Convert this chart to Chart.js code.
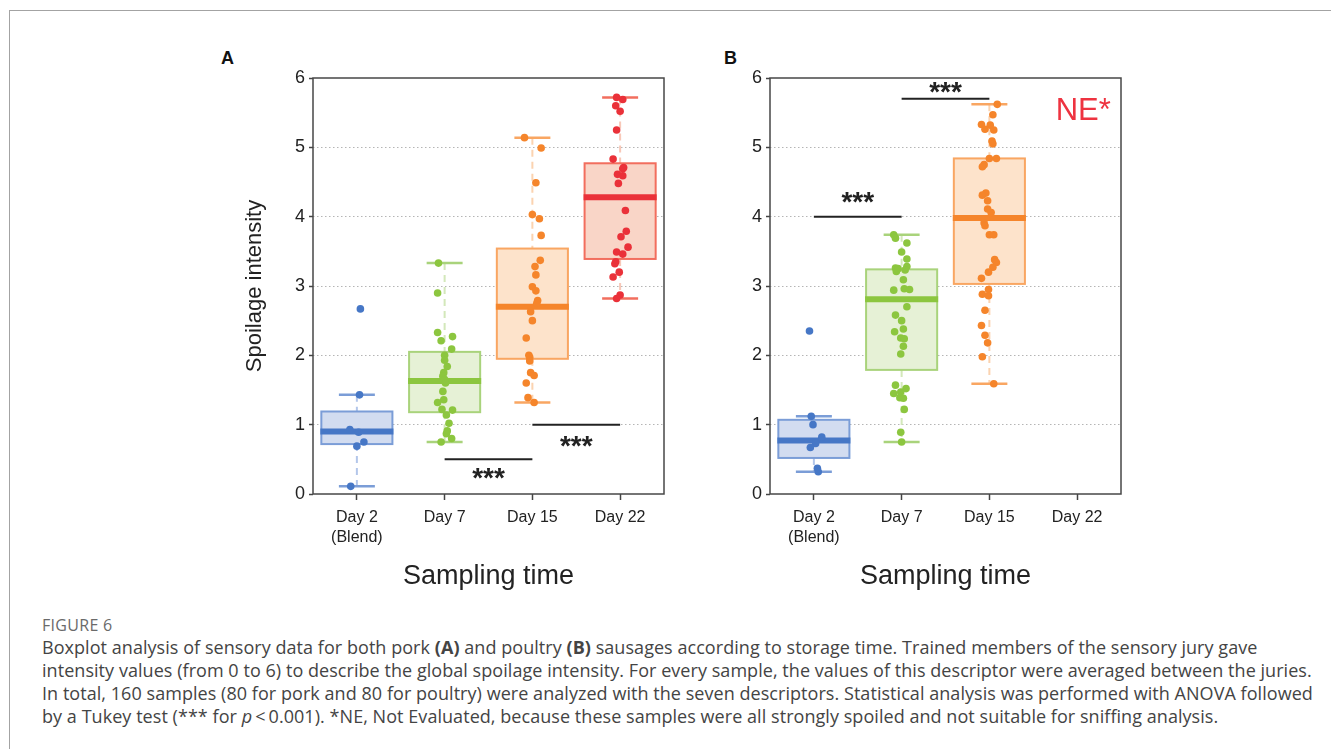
<!DOCTYPE html>
<html>
<head>
<meta charset="utf-8">
<script src="https://cdn.jsdelivr.net/npm/chart.js"></script>
<style>
  body { margin: 0; background: #fff; width: 1331px; height: 749px; overflow: hidden; position: relative; }
  .frame { position: absolute; left: 9px; top: 10px; width: 1330px; height: 760px; border-top: 1px solid #a3a3a3; border-left: 1px solid #a3a3a3; }
  canvas { position: absolute; top: 40px; }
  #chartA { left: 200px; }
  #chartB { left: 657px; }
  .panel { position: absolute; font: bold 18px 'Liberation Sans', Arial, sans-serif; color: #111; }
  .caption { position: absolute; left: 42px; top: 615px; font-family: 'Open Sans', sans-serif; color: #444; white-space: nowrap; }
  .caption .fig { font-size: 16px; letter-spacing: 0.3px; line-height: 21px; color: #6a6a6a; }
  .caption p { margin: 0; font-size: 18px; letter-spacing: 0.05px; line-height: 23px; }
</style>
</head>
<body>
<div class="frame"></div>
<div class="panel" style="left:221px;top:48px">A</div>
<div class="panel" style="left:724px;top:48px">B</div>
<canvas id="chartA" width="480" height="570"></canvas>
<canvas id="chartB" width="480" height="570"></canvas>
<div class="caption">
  <div class="fig">FIGURE 6</div>
  <p>Boxplot analysis of sensory data for both pork <b>(A)</b> and poultry <b>(B)</b> sausages according to storage time. Trained members of the sensory jury gave<br>
  intensity values (from 0 to 6) to describe the global spoilage intensity. For every sample, the values of this descriptor were averaged between the juries.<br>
  In total, 160 samples (80 for pork and 80 for poultry) were analyzed with the seven descriptors. Statistical analysis was performed with ANOVA followed<br>
  by a Tukey test (*** for <i>p</i>&thinsp;&lt;&thinsp;0.001). *NE, Not Evaluated, because these samples were all strongly spoiled and not suitable for sniffing analysis.</p>
</div>
<script>
const categories = [['Day 2', '(Blend)'], 'Day 7', 'Day 15', 'Day 22'];
const yTicks = [0, 1, 2, 3, 4, 5, 6];

// pork (A) box summaries per day
const porkQ1 = [0.72, 1.18, 1.95, 3.39];
const porkMedian = [0.90, 1.63, 2.70, 4.28];
const porkQ3 = [1.19, 2.05, 3.54, 4.77];
const porkLow = [0.11, 0.75, 1.32, 2.82];
const porkHigh = [1.43, 3.33, 5.14, 5.72];

// pork samples: [value, horizontal jitter]
const porkDay2 = [[2.67, 0.04], [1.43, 0.03], [0.93, -0.08], [0.89, 0.02], [0.75, 0.08], [0.69, 0], [0.11, -0.07]];
const porkDay7 = [[3.33, -0.07], [2.90, -0.08], [2.33, -0.08], [2.27, 0.09], [2.21, -0.04], [2.09, 0.08], [2.00, 0], [1.93, 0],
  [1.84, 0.03], [1.75, -0.01], [1.70, -0.02], [1.65, 0], [1.60, 0.01], [1.48, -0.02], [1.36, -0.01], [1.32, -0.08],
  [1.22, -0.03], [1.21, 0.09], [1.14, 0.02], [1.02, 0.05], [0.91, 0.03], [0.87, 0.02], [0.80, 0.08], [0.75, -0.04]];
const porkDay15 = [[5.14, -0.09], [4.99, 0.10], [4.49, 0.04], [4.03, 0], [3.97, 0.08], [3.73, 0.10], [3.37, 0.09], [3.28, 0.03],
  [3.16, 0.04], [2.99, 0], [2.93, 0.04], [2.79, 0.06], [2.75, 0.05], [2.63, -0.02], [2.50, 0], [2.25, -0.07],
  [2.00, -0.04], [1.97, -0.03], [1.92, -0.03], [1.75, -0.02], [1.71, 0.02], [1.60, -0.07], [1.39, -0.05], [1.32, 0.02]];
const porkDay22 = [[5.72, -0.04], [5.69, 0.03], [5.60, -0.05], [5.52, 0], [5.25, -0.04], [4.83, -0.08], [4.71, 0.04], [4.69, 0.03],
  [4.61, -0.03], [4.59, 0.03], [4.48, -0.02], [4.09, 0.06], [3.79, 0.07], [3.71, 0.01], [3.56, 0.09], [3.49, -0.04],
  [3.46, 0.03], [3.35, -0.05], [3.32, -0.06], [3.20, -0.01], [3.13, -0.08], [2.87, 0], [2.82, -0.04]];

// significance: [from day, to day, line value, label value]
const porkSig = [[1, 2, 0.5, 0.29], [2, 3, 1.0, 0.755]];

// poultry (B) box summaries per day (Day 22 not evaluated)
const poultryQ1 = [0.52, 1.79, 3.03, null];
const poultryMedian = [0.77, 2.81, 3.98, null];
const poultryQ3 = [1.07, 3.24, 4.84, null];
const poultryLow = [0.32, 0.75, 1.59, null];
const poultryHigh = [1.12, 3.74, 5.62, null];

const poultryDay2 = [[2.35, -0.05], [1.12, -0.03], [1.00, -0.01], [0.82, 0.09], [0.73, 0.02], [0.67, -0.04], [0.37, 0.04], [0.32, 0.05]];
const poultryDay7 = [[3.74, -0.09], [3.69, -0.07], [3.62, 0.06], [3.49, 0], [3.39, 0.06], [3.28, 0.06], [3.26, -0.07], [3.25, -0.04],
  [3.23, 0.04], [3.21, -0.06], [3.09, 0.02], [2.96, 0.03], [2.95, 0.09], [2.94, -0.09], [2.70, 0.06], [2.58, -0.07],
  [2.50, 0], [2.38, 0.02], [2.34, -0.08], [2.25, -0.01], [2.24, 0.03], [2.13, 0.02], [2.02, -0.01], [1.57, -0.07],
  [1.52, 0.05], [1.47, -0.01], [1.45, -0.09], [1.39, -0.02], [1.38, 0.02], [1.22, 0.03], [0.89, -0.01], [0.75, 0]];
const poultryDay15 = [[5.62, 0.09], [5.47, 0.04], [5.33, -0.09], [5.32, 0.01], [5.26, -0.05], [5.25, 0.05], [5.09, 0.03], [5.05, 0.04],
  [4.84, 0], [4.84, 0.08], [4.75, -0.06], [4.72, -0.08], [4.34, -0.04], [4.31, -0.08], [4.23, -0.02], [4.11, -0.02],
  [4.06, 0.02], [3.91, -0.06], [3.87, -0.05], [3.74, 0], [3.74, 0.05], [3.38, 0.06], [3.34, 0.08], [3.27, 0.04],
  [3.20, -0.01], [3.11, -0.09], [2.95, -0.01], [2.88, -0.08], [2.86, -0.01], [2.65, -0.05], [2.43, -0.09], [2.29, -0.05],
  [2.18, -0.02], [1.98, -0.08], [1.59, 0.05]];
const poultrySig = [[0, 1, 4.0, 4.28], [1, 2, 5.7, 5.87]];

const boxFill = ['#d2dcf0', '#e6f1d6', '#fde3cb', '#f9d5c7'];
const boxLine = ['#7b9dd7', '#a9d37b', '#f9a662', '#f26e5e'];
const dotColor = ['#4677c6', '#8cc63f', '#f5852b', '#ea3139'];
const whiskerColor = ['#b3c6ea', '#d3e8ba', '#fbd3b0', '#f8c8b8'];

Chart.defaults.font.family = "'Liberation Sans', Arial, sans-serif";

function drawCentered(ctx, text, x, y) {
  const m = ctx.measureText(text);
  const a = m.actualBoundingBoxAscent, d = m.actualBoundingBoxDescent;
  ctx.fillText(text, x, y + (a - d) / 2);
}

const boxPlugin = {
  id: 'boxes',
  beforeDatasetsDraw(chart, args, o) {
    const { ctx, scales: { x, y } } = chart;
    const seg = (x1, y1, x2, y2) => { ctx.beginPath(); ctx.moveTo(x1, y1); ctx.lineTo(x2, y2); ctx.stroke(); };
    ctx.save();
    o.q1.forEach((q1, i) => {
      if (q1 == null) return;
      const cx = x.getPixelForValue(i);
      const hw = x.getPixelForValue(i + 0.405) - cx;
      const cw = x.getPixelForValue(i + 0.205) - cx;
      const top = y.getPixelForValue(o.q3[i]);
      const bot = y.getPixelForValue(q1);
      const hi = y.getPixelForValue(o.hi[i]);
      const lo = y.getPixelForValue(o.lo[i]);
      const md = y.getPixelForValue(o.med[i]);
      ctx.lineWidth = 2;
      ctx.strokeStyle = whiskerColor[i];
      ctx.setLineDash([7, 5]);
      seg(cx, hi, cx, top);
      seg(cx, bot, cx, lo);
      ctx.setLineDash([]);
      ctx.lineWidth = 2.5;
      ctx.strokeStyle = boxLine[i];
      seg(cx - cw, hi, cx + cw, hi);
      seg(cx - cw, lo, cx + cw, lo);
      ctx.fillStyle = boxFill[i];
      ctx.fillRect(cx - hw, top, 2 * hw, bot - top);
      ctx.lineWidth = 2;
      ctx.strokeRect(cx - hw, top, 2 * hw, bot - top);
      ctx.lineWidth = 6;
      ctx.strokeStyle = dotColor[i];
      seg(cx - hw - 1, md, cx + hw + 1, md);
    });
    ctx.restore();
  },
  afterDraw(chart, args, o) {
    const { ctx, chartArea: a, scales: { x, y } } = chart;
    ctx.save();
    ctx.strokeStyle = '#474747';
    ctx.lineWidth = 1.5;
    ctx.strokeRect(a.left, a.top, a.right - a.left, a.bottom - a.top);
    ctx.strokeStyle = '#222';
    ctx.fillStyle = '#222';
    ctx.lineWidth = 2;
    ctx.font = "bold 28px 'Liberation Sans', Arial, sans-serif";
    ctx.textAlign = 'center';
    ctx.textBaseline = 'alphabetic';
    o.sig.forEach(([from, to, v, lv]) => {
      const yy = y.getPixelForValue(v);
      ctx.beginPath();
      ctx.moveTo(x.getPixelForValue(from), yy);
      ctx.lineTo(x.getPixelForValue(to), yy);
      ctx.stroke();
      drawCentered(ctx, '***', x.getPixelForValue((from + to) / 2), y.getPixelForValue(lv));
    });
    if (o.note) {
      ctx.fillStyle = '#ee3340';
      ctx.font = "31px 'Liberation Sans', Arial, sans-serif";
      drawCentered(ctx, o.note, x.getPixelForValue(o.noteX), y.getPixelForValue(o.noteY));
    }
    ctx.restore();
  }
};

function makePanel(id, q1, med, q3, lo, hi, days, sig, yTitle, note) {
  const datasets = days.map((pts, i) => ({
    data: pts.map(([v, j]) => ({ x: i + j, y: v })),
    backgroundColor: dotColor[i],
    borderWidth: 0,
    pointRadius: 3.8,
    pointHoverRadius: 3.8
  }));
  return new Chart(document.getElementById(id), {
    type: 'scatter',
    data: { datasets },
    plugins: [boxPlugin],
    options: {
      responsive: false,
      animation: false,
      devicePixelRatio: 1,
      layout: { padding: { top: 38, right: 16, bottom: 0, left: 0 } },
      plugins: {
        legend: { display: false },
        tooltip: { enabled: false },
        boxes: { q1, med, q3, lo, hi, sig, note: note, noteX: 3.07, noteY: 5.55 }
      },
      scales: {
        x: {
          type: 'linear', min: -0.5, max: 3.5,
          afterBuildTicks: s => { s.ticks = categories.map((c, i) => ({ value: i })); },
          afterFit: s => { s.height = 116; },
          ticks: { callback: v => categories[v], font: { size: 16, lineHeight: 1.25 }, color: '#222', padding: 8, maxRotation: 0, autoSkip: false },
          grid: { drawOnChartArea: false, tickLength: 6, tickColor: '#444', tickWidth: 1.5 },
          border: { display: false },
          title: { display: true, text: 'Sampling time', font: { size: 27 }, color: '#222', padding: { top: 0, bottom: 17 } }
        },
        y: {
          min: 0, max: 6,
          afterBuildTicks: s => { s.ticks = yTicks.map(v => ({ value: v })); },
          afterFit: s => { s.width = 113; },
          ticks: { font: { size: 18 }, color: '#222', padding: 4 },
          grid: {
            color: c => (c.tick && (c.tick.value === 0 || c.tick.value === 6)) ? 'rgba(0,0,0,0)' : '#b5b5b5',
            tickColor: '#444', tickLength: 4, lineWidth: 1, tickWidth: 1.5
          },
          border: { display: false, dash: [1.5, 2.5] },
          title: { display: yTitle, text: 'Spoilage intensity', font: { size: 22 }, color: '#222', padding: { top: 42, bottom: 0 } }
        }
      }
    }
  });
}

makePanel('chartA', porkQ1, porkMedian, porkQ3, porkLow, porkHigh,
  [porkDay2, porkDay7, porkDay15, porkDay22], porkSig, true, null);
makePanel('chartB', poultryQ1, poultryMedian, poultryQ3, poultryLow, poultryHigh,
  [poultryDay2, poultryDay7, poultryDay15], poultrySig, false, 'NE*');
</script>
</body>
</html>
